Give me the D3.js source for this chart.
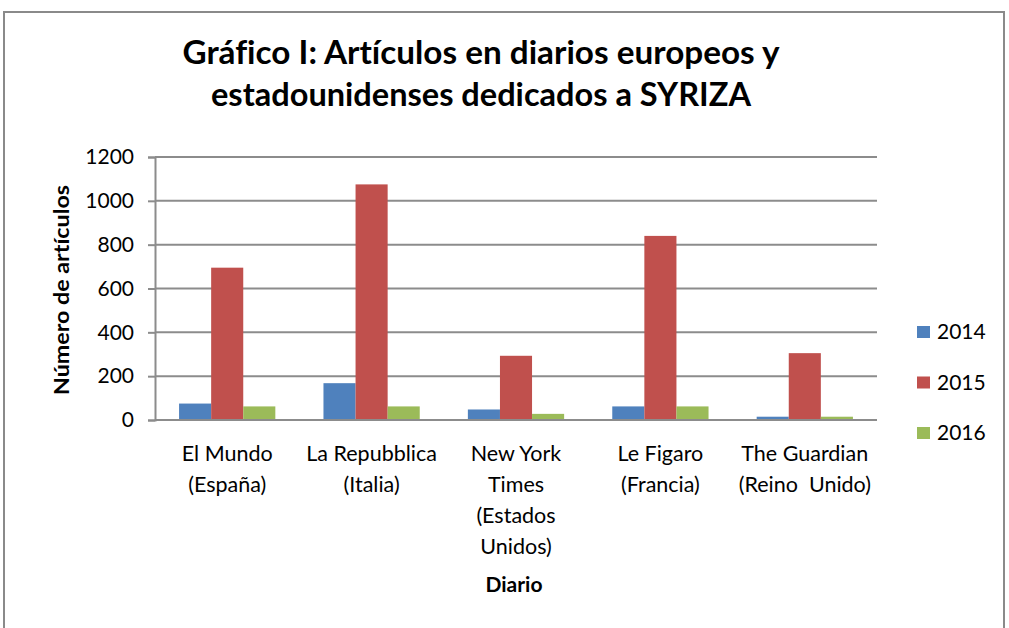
<!DOCTYPE html>
<html>
<head>
<meta charset="utf-8">
<script src="https://cdn.jsdelivr.net/npm/d3@7"></script>
<style>
  html, body { margin: 0; padding: 0; background: #fff; }
  svg { display: block; font-family: Lato, "Open Sans", sans-serif; font-variant-ligatures: none; }
</style>
</head>
<body>
<svg id="chart" width="1009" height="628"></svg>
<script>
const categories = [
  ["El Mundo", "(España)"],
  ["La Repubblica", "(Italia)"],
  ["New York", "Times", "(Estados", "Unidos)"],
  ["Le Figaro", "(Francia)"],
  ["The Guardian", "(Reino  Unido)"]
];
const categoryKeys = ["El Mundo", "La Repubblica", "New York Times", "Le Figaro", "The Guardian"];
const years = ["2014", "2015", "2016"];
const values2014 = [75, 168, 48, 62, 15];
const values2015 = [695, 1075, 293, 840, 305];
const values2016 = [62, 62, 28, 62, 15];
const yTicks = [0, 200, 400, 600, 800, 1000, 1200];
const titleLines = ["Gráfico I: Artículos en diarios europeos y", "estadounidenses dedicados a SYRIZA"];
const yTitle = "Número de artículos";
const xTitle = "Diario";

const colors = { "2014": "#4F81BD", "2015": "#C0504D", "2016": "#9BBB59" };
const seriesValues = { "2014": values2014, "2015": values2015, "2016": values2016 };

const svg = d3.select("#chart");

// outer frame
svg.append("path")
  .attr("d", "M4,640 L4,12 L1004,12 L1004,640")
  .attr("fill", "none").attr("stroke", "#8a8a8a").attr("stroke-width", 2);

const plot = { left: 155, right: 877, top: 157, bottom: 420 };

const x0 = d3.scaleBand().domain(categoryKeys).range([plot.left, plot.right]).padding(0);
const x1 = d3.scaleBand().domain(years).range([0, x0.bandwidth()]).paddingInner(0).paddingOuter(0.75);
const y = d3.scaleLinear().domain([0, 1200]).range([plot.bottom, plot.top]);

// gridlines
svg.append("g").selectAll("line").data(yTicks).join("line")
  .attr("x1", plot.left).attr("x2", plot.right)
  .attr("y1", d => y(d)).attr("y2", d => y(d))
  .attr("stroke", "#8c8c8c").attr("stroke-width", 2);

// y axis
const yAxis = d3.axisLeft(y).tickValues(yTicks).tickFormat(d3.format("d")).tickSize(7).tickPadding(14);
const yg = svg.append("g").attr("transform", `translate(${plot.left},0)`).call(yAxis);
yg.select(".domain").attr("stroke", "#8c8c8c").attr("stroke-width", 2);
yg.selectAll(".tick line").attr("stroke", "#8c8c8c").attr("stroke-width", 2);
yg.selectAll(".tick text").attr("font-size", 21).attr("fill", "#000").attr("font-family", "Lato");

// bars
const groups = svg.append("g").selectAll("g").data(categoryKeys).join("g")
  .attr("transform", d => `translate(${x0(d)},0)`);
groups.selectAll("rect")
  .data((d, i) => years.map(yr => ({ yr, v: seriesValues[yr][i] })))
  .join("rect")
  .attr("x", d => x1(d.yr))
  .attr("width", x1.bandwidth())
  .attr("y", d => y(d.v))
  .attr("height", d => y(0) - y(d.v))
  .attr("fill", d => colors[d.yr]);

// redraw baseline on top
svg.append("line").attr("x1", plot.left).attr("x2", plot.right)
  .attr("y1", y(0)).attr("y2", y(0)).attr("stroke", "#8c8c8c").attr("stroke-width", 2);

// category labels
const catG = svg.append("g");
categoryKeys.forEach((k, i) => {
  const t = catG.append("text")
    .attr("x", x0(k) + x0.bandwidth() / 2)
    .attr("y", 461)
    .attr("text-anchor", "middle")
    .attr("font-size", 21.5).attr("fill", "#000");
  categories[i].forEach((line, j) => {
    t.append("tspan").attr("x", x0(k) + x0.bandwidth() / 2)
      .attr("dy", j === 0 ? 0 : 31).attr("xml:space", "preserve").text(line);
  });
});

// axis titles
svg.append("text").attr("x", 514).attr("y", 592).attr("text-anchor", "middle")
  .attr("font-size", 21).attr("font-weight", "bold").text(xTitle);
svg.append("text").attr("transform", "translate(69,290) rotate(-90)")
  .attr("text-anchor", "middle").attr("font-size", 21).attr("font-weight", "bold")
  .attr("textLength", 210).attr("lengthAdjust", "spacingAndGlyphs").text(yTitle);

// title
const titleWidths = [597, 540];
titleLines.forEach((l, i) => {
  svg.append("text").attr("x", 481).attr("y", 64 + i * 42)
    .attr("text-anchor", "middle").attr("font-size", 32).attr("font-weight", "bold")
    .attr("textLength", titleWidths[i]).attr("lengthAdjust", "spacingAndGlyphs")
    .text(l);
});

// legend
const leg = svg.append("g").selectAll("g").data(years).join("g")
  .attr("transform", (d, i) => `translate(917,${332 + i * 50.5})`);
leg.append("rect").attr("x", 0).attr("y", -6).attr("width", 13).attr("height", 12)
  .attr("fill", d => colors[d]);
leg.append("text").attr("x", 20).attr("y", 7).attr("font-size", 21).text(d => d);
</script>
</body>
</html>
